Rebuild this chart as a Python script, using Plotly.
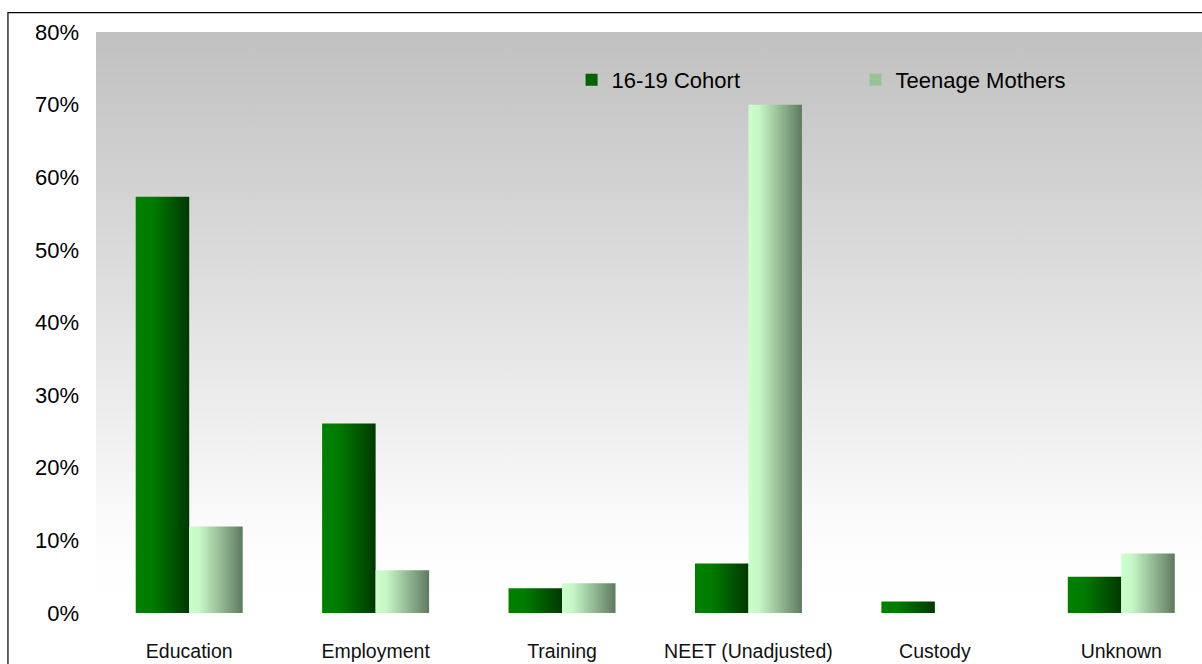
import plotly.graph_objects as go

categories = ["Education", "Employment", "Training", "NEET (Unadjusted)", "Custody", "Unknown"]
cohort_values = [0.573, 0.261, 0.034, 0.068, 0.016, 0.050]
mothers_values = [0.119, 0.059, 0.041, 0.700, 0.0, 0.082]
y_ticks = [0, 0.1, 0.2, 0.3, 0.4, 0.5, 0.6, 0.7, 0.8]

series = [
    dict(name="16-19 Cohort", values=cohort_values, offset=-0.287, solid="#006400",
         scale=[[0, "#008000"], [0.3, "#007c00"], [1, "#003800"]]),
    dict(name="Teenage Mothers", values=mothers_values, offset=0.0, solid="#97c497",
         scale=[[0, "#ccffcc"], [0.2, "#c6f7c6"], [1, "#5f7a5f"]]),
]
bar_w = 0.287
x_pos = list(range(len(categories)))
x_range = [-0.5, 5.433]

fig = go.Figure()

# plot-area background: vertical grey-to-white gradient
fig.add_trace(go.Scatter(
    x=[x_range[0], x_range[1], x_range[1], x_range[0]], y=[0, 0, 0.8, 0.8],
    mode="lines", fill="toself", line=dict(width=0),
    fillgradient=dict(type="vertical",
                      colorscale=[[0, "#ffffff"], [0.12, "#fdfdfd"], [1, "#c0c0c0"]]),
    hoverinfo="skip", showlegend=False))

for s in series:
    # base bars (also provide the legend entries)
    fig.add_trace(go.Bar(
        x=x_pos, y=s["values"], width=bar_w, offset=s["offset"], name=s["name"],
        marker=dict(color=s["solid"], line=dict(width=0))))

for s in series:
    # horizontal shading over each bar
    for xi, v in zip(x_pos, s["values"]):
        if v <= 0:
            continue
        x0 = xi + s["offset"]
        x1 = x0 + bar_w
        fig.add_trace(go.Scatter(
            x=[x0, x1, x1, x0], y=[0, 0, v, v], mode="lines", fill="toself",
            line=dict(width=0),
            fillgradient=dict(type="horizontal", colorscale=s["scale"]),
            hoverinfo="skip", showlegend=False))

fig.update_layout(
    width=1202, height=664,
    margin=dict(l=96, r=0, t=32, b=50.5),
    paper_bgcolor="white", plot_bgcolor="white",
    font=dict(family="Liberation Sans, Arial, sans-serif", size=22, color="#000"),
    showlegend=True,
    legend=dict(orientation="h", x=0.430, xanchor="left", y=0.9175, yanchor="middle",
                bgcolor="rgba(0,0,0,0)", borderwidth=0, entrywidth=239,
                font=dict(size=22), itemclick=False, itemdoubleclick=False),
    barmode="overlay",
    shapes=[dict(type="rect", xref="paper", yref="paper",
                 x0=-0.0796, x1=1.2, y0=-0.3, y1=1.0335,
                 line=dict(color="#000", width=1.2), fillcolor="rgba(0,0,0,0)",
                 layer="above")],
)

fig.update_xaxes(range=x_range, tickvals=x_pos, ticktext=categories,
                 showgrid=False, zeroline=False, showline=False, ticks="",
                 ticklabelstandoff=24,
                 tickfont=dict(family="Liberation Sans, Arial, sans-serif", size=19.5,
                               color="#111"))
fig.update_yaxes(range=[0, 0.8], tickvals=y_ticks, tickformat=".0%",
                 showgrid=False, zeroline=False, showline=False, ticks="",
                 ticklabelstandoff=16, tickfont=dict(size=22))

fig.write_html("out.html")
